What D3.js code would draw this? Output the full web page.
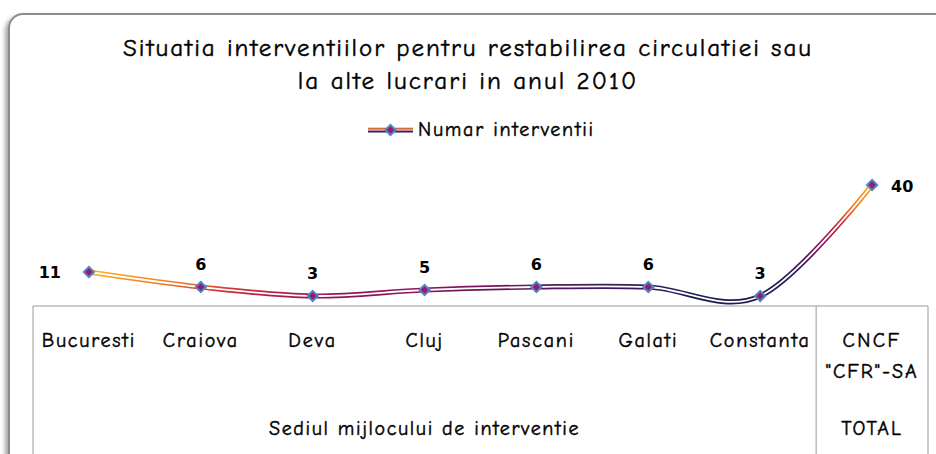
<!DOCTYPE html>
<html><head><meta charset="utf-8">
<script src="https://cdn.jsdelivr.net/npm/d3@7"></script>
<style>
html,body{margin:0;padding:0;background:#fff;}
svg{display:block;}
text{font-family:"Comic Sans MS","Comic Neue","DejaVu Sans",sans-serif;fill:#000;}
text.ct{stroke:#000;stroke-width:0.45px;}
</style></head>
<body>
<svg id="chart" width="936" height="454"></svg>
<script>
const titleLines = ["Situatia interventiilor pentru restabilirea circulatiei sau", "la alte lucrari in anul 2010"];
const seriesName = "Numar interventii";
const categories = ["Bucuresti","Craiova","Deva","Cluj","Pascani","Galati","Constanta","CNCF\n\"CFR\"-SA"];
const values = [11, 6, 3, 5, 6, 6, 3, 40];
const groups = [{label:"Sediul mijlocului de interventie", from:0, to:6},{label:"TOTAL", from:7, to:7}];

const svg = d3.select("#chart");
const W = 936, H = 454;
const plot = {left:33, right:928, top:185, axisY:305};

// widen comic-style text to the reference's wide letter shapes
const SIZE_K = 1.25, WIDTH_K = 1.5;
function widen(sel){
  sel.each(function(){
    const el = this;
    const txt = el.textContent; const n = Math.max(1, txt.length);
    const w = el.getComputedTextLength();
    const target = w * WIDTH_K / SIZE_K;
    d3.select(el).attr("letter-spacing", (target - w)/n);
  });
}

const defs = svg.append("defs");
const f = defs.append("filter").attr("id","sh").attr("x","-5%").attr("y","-5%").attr("width","110%").attr("height","110%");
f.append("feDropShadow").attr("dx",-3).attr("dy",3).attr("stdDeviation",2).attr("flood-color","#000").attr("flood-opacity",0.35);

// frame
svg.append("rect").attr("x",9).attr("y",14).attr("width",945).attr("height",460).attr("rx",14)
  .attr("fill","#fff").attr("stroke","#8c8c8c").attr("stroke-width",2).attr("filter","url(#sh)");

// title
titleLines.forEach((t,i)=> svg.append("text").attr("class","ct").attr("text-anchor","middle")
  .attr("font-size",20*SIZE_K).attr("x",468).attr("y",56+i*33).text(t));

// scales
const x = d3.scaleBand().domain(d3.range(categories.length)).range([plot.left, plot.right]);
const y = d3.scaleLinear().domain([0, 40]).range([plot.axisY, plot.top]);
const cx = i => x(i) + x.bandwidth()/2;

// gradient across the line
const p0 = [cx(0), y(values[0])], pN = [cx(values.length-1), y(values[values.length-1])];
let dx = pN[0]-p0[0], dy = pN[1]-p0[1]; const len = Math.hypot(dx,dy);
const nx = -dy/len, ny = dx/len;
const g = defs.append("linearGradient").attr("id","lg").attr("gradientUnits","userSpaceOnUse")
  .attr("x1",p0[0]).attr("y1",p0[1]).attr("x2",p0[0]+nx*88).attr("y2",p0[1]+ny*88);
[[0,"#ffab1a"],[0.22,"#f27a1e"],[0.42,"#c2283e"],[0.6,"#8e145c"],[0.78,"#4b1a5e"],[1,"#1b1b4f"]]
  .forEach(s=>g.append("stop").attr("offset",s[0]).attr("stop-color",s[1]));

// axis lines
const axc = "#9a9a9a";
svg.append("line").attr("x1",plot.left).attr("x2",plot.right).attr("y1",plot.axisY+1).attr("y2",plot.axisY+1).attr("stroke",axc);
[plot.left, x(7), plot.right].forEach(xx=>{
  svg.append("line").attr("x1",xx).attr("x2",xx).attr("y1",plot.axisY+1).attr("y2",H).attr("stroke",axc);
});

// category labels
categories.forEach((c,i)=>{
  c.split("\n").forEach((ln,k)=>svg.append("text").attr("class","ct").attr("text-anchor","middle")
    .attr("font-size",16*SIZE_K).attr("x",cx(i)).attr("y",347+k*31).text(ln));
});
groups.forEach(gr=>{
  const mid = (x(gr.from) + x(gr.to)+x.bandwidth())/2;
  svg.append("text").attr("class","ct").attr("text-anchor","middle").attr("font-size",16*SIZE_K)
    .attr("x",mid).attr("y",435).text(gr.label);
});

// line
const line = d3.line().x((d,i)=>cx(i)).y(d=>y(d)).curve(d3.curveCardinal.tension(0));
svg.append("path").attr("d",line(values)).attr("fill","none").attr("stroke","url(#lg)").attr("stroke-width",5.2).attr("stroke-linecap","round");
svg.append("path").attr("d",line(values)).attr("fill","none").attr("stroke","#fff").attr("stroke-width",1.8).attr("stroke-linecap","round");

// markers
function marker(sel, px, py){
  sel.append("path").attr("d",d3.symbol().type(d3.symbolSquare).size(52)())
    .attr("transform",`translate(${px},${py}) rotate(45)`)
    .attr("fill","#9c1870").attr("stroke","#4f86c6").attr("stroke-width",2);
}
values.forEach((v,i)=>marker(svg, cx(i), y(v)));

// data labels
values.forEach((v,i)=>{
  const t = svg.append("text").attr("font-size",16).attr("font-weight","bold")
    .style("font-family","'DejaVu Sans',Verdana,sans-serif").text(v);
  if(i===0){ t.attr("x",cx(i)-28).attr("y",y(v)+6).attr("text-anchor","end"); }
  else if(i===values.length-1){ t.attr("x",cx(i)+19).attr("y",y(v)+7).attr("text-anchor","start"); }
  else { t.attr("x",cx(i)).attr("y",y(v)-17).attr("text-anchor","middle"); }
});

// legend
const ly = 130, lx0 = 368, lx1 = 413;
const lgG = defs.append("linearGradient").attr("id","lgl").attr("x1",0).attr("y1",0).attr("x2",0).attr("y2",1);
[[0,"#ffab1a"],[0.5,"#8e145c"],[1,"#1b1b4f"]].forEach(s=>lgG.append("stop").attr("offset",s[0]).attr("stop-color",s[1]));
svg.append("rect").attr("x",lx0).attr("y",ly-2.5).attr("width",lx1-lx0).attr("height",5).attr("fill","url(#lgl)");
svg.append("line").attr("x1",lx0).attr("x2",lx1).attr("y1",ly).attr("y2",ly).attr("stroke","#fff").attr("stroke-width",1.2);
marker(svg, (lx0+lx1)/2, ly);
svg.append("text").attr("class","ct").attr("x",418).attr("y",ly+6).attr("font-size",16*SIZE_K).text(seriesName);

widen(svg.selectAll("text.ct"));
</script>
</body></html>
